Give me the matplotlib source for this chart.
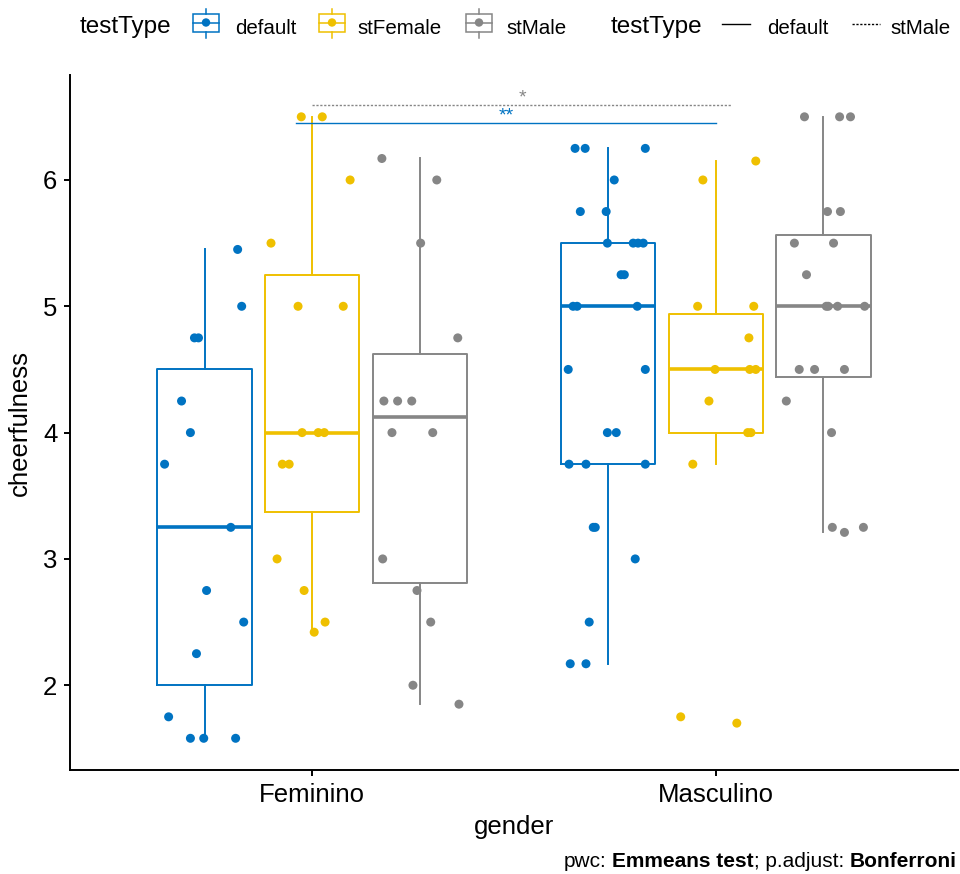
import matplotlib
matplotlib.use("Agg")
import matplotlib.pyplot as plt
from matplotlib.transforms import Affine2D
from matplotlib.lines import Line2D
from matplotlib.patches import Rectangle, Circle

plt.rcParams['font.family'] = ['Liberation Sans', 'DejaVu Sans']

# ---------------- data ----------------
genders = ["Feminino", "Masculino"]
test_types = ["default", "stFemale", "stMale"]
palette = ["#0073C2", "#EFC000", "#868686"]
y_ticks = [2, 3, 4, 5, 6]

fem_default = [5.45, 5.0, 4.75, 4.75, 4.25, 4.0, 3.75, 3.25, 2.75, 2.5, 2.25, 1.75, 1.58, 1.58, 1.58]
fem_stfemale = [6.5, 6.5, 6.0, 5.5, 5.0, 5.0, 4.0, 4.0, 4.0, 3.75, 3.75, 3.0, 2.75, 2.5, 2.42]
fem_stmale = [6.17, 6.0, 5.5, 4.75, 4.25, 4.25, 4.25, 4.0, 4.0, 3.0, 2.75, 2.5, 2.0, 1.85]
masc_default = [6.25, 6.25, 6.25, 6.0, 5.75, 5.75, 5.5, 5.5, 5.5, 5.5, 5.25, 5.25, 5.0, 5.0,
                5.0, 4.5, 4.5, 4.0, 4.0, 3.75, 3.75, 3.75, 3.25, 3.25, 3.0, 2.5, 2.17, 2.17]
masc_stfemale = [6.15, 6.0, 5.0, 5.0, 4.75, 4.5, 4.5, 4.5, 4.25, 4.0, 4.0, 3.75, 1.75, 1.70]
masc_stmale = [6.5, 6.5, 6.5, 5.75, 5.75, 5.5, 5.5, 5.25, 5.0, 5.0, 5.0, 5.0, 4.5, 4.5, 4.5,
               4.25, 4.0, 3.25, 3.21, 3.25]

# horizontal jitter of each point (x units)
fem_default_jit = [0.082, 0.092, -0.025, -0.015, -0.057, -0.035, -0.099, 0.065, 0.005, 0.097,
                   -0.020, -0.089, -0.035, -0.002, 0.077]
fem_stfemale_jit = [-0.027, 0.025, 0.094, -0.102, -0.035, 0.077, -0.025, 0.015, 0.030, -0.074,
                    -0.057, -0.087, -0.020, 0.032, 0.005]
fem_stmale_jit = [-0.094, 0.042, 0.002, 0.094, -0.089, -0.055, -0.020, -0.069, 0.032, -0.092,
                  -0.007, 0.027, -0.017, 0.097]
masc_default_jit = [-0.082, -0.057, 0.092, 0.015, -0.069, -0.005, -0.002, 0.062, 0.074, 0.087,
                    0.032, 0.040, -0.087, -0.077, 0.072, -0.099, 0.092, -0.002, 0.020, -0.097,
                    -0.055, 0.092, -0.037, -0.032, 0.067, -0.047, -0.094, -0.055]
masc_stfemale_jit = [0.099, -0.032, -0.045, 0.094, 0.082, -0.002, 0.084, 0.099, -0.017, 0.079,
                     0.087, -0.057, -0.087, 0.052]
masc_stmale_jit = [-0.047, 0.040, 0.067, 0.010, 0.042, -0.072, 0.025, -0.042, 0.007, 0.012,
                   0.035, 0.102, -0.060, -0.022, 0.052, -0.092, 0.020, 0.022, 0.052, 0.099]

groups = {
    ("Feminino", "default"): (fem_default, fem_default_jit),
    ("Feminino", "stFemale"): (fem_stfemale, fem_stfemale_jit),
    ("Feminino", "stMale"): (fem_stmale, fem_stmale_jit),
    ("Masculino", "default"): (masc_default, masc_default_jit),
    ("Masculino", "stFemale"): (masc_stfemale, masc_stfemale_jit),
    ("Masculino", "stMale"): (masc_stmale, masc_stmale_jit),
}

# pairwise comparisons Feminino vs Masculino within test type
pwc_types = ["default", "stMale"]
pwc_y = [6.45, 6.59]
pwc_labels = ["**", "*"]

# ---------------- figure ----------------
W, H = 960, 874
fig = plt.figure(figsize=(W / 100, H / 100), dpi=100)
ax = fig.add_axes([70 / W, 1 - 770 / H, (958 - 70) / W, (770 - 75) / H])

dodge = 0.8 / 3
box_w = 0.7 / 3

for gi, g in enumerate(genders):
    for ti, t in enumerate(test_types):
        vals, jit = groups[(g, t)]
        col = palette[ti]
        pos = gi + 1 + (ti - 1) * dodge
        ax.boxplot([vals], positions=[pos], widths=box_w, whis=1.5,
                   showfliers=False, showcaps=False, patch_artist=False,
                   boxprops=dict(color=col, linewidth=1.4),
                   whiskerprops=dict(color=col, linewidth=1.4),
                   medianprops=dict(color=col, linewidth=2.6, solid_capstyle='butt'),
                   manage_ticks=False, zorder=2)
        ax.scatter([pos + j for j in jit], vals, s=42, color=col,
                   edgecolors='none', zorder=3)

# significance brackets
bracket_x = {"default": (1 - 0.04, 2.0), "stMale": (1.0, 2 + 0.04)}
bracket_style = {"default": '-', "stMale": (0, (1.6, 1.2))}
for t, yv, lab in zip(pwc_types, pwc_y, pwc_labels):
    col = palette[test_types.index(t)]
    x1, x2 = bracket_x[t]
    ax.plot([x1, x2], [yv, yv], color=col, lw=1.0, linestyle=bracket_style[t], zorder=4)
    ax.text((x1 + x2) / 2, yv - 0.01, lab, color=col, ha='center', va='bottom', fontsize=14)

ax.set_xlim(0.4, 2.6)
ax.set_ylim(1.329, 6.831)
ax.set_xticks([1, 2])
ax.set_xticklabels(genders)
ax.set_yticks(y_ticks)
ax.set_yticklabels([str(v) for v in y_ticks])
for s in ("top", "right"):
    ax.spines[s].set_visible(False)
for s in ("left", "bottom"):
    ax.spines[s].set_linewidth(1.4)
    ax.spines[s].set_color("black")
ax.tick_params(axis='both', length=4, width=1.4, color='black', labelsize=18.5,
               labelcolor='black', pad=5)
ax.set_xlabel("gender", fontsize=18.5, labelpad=6)
ax.set_ylabel("cheerfulness", fontsize=18.5, labelpad=8)

# ---------------- legends (pixel layout, y measured from top) ----------------
px = Affine2D().scale(1 / W, -1 / H).translate(0, 1) + fig.transFigure

def ftext(x, y, s, size, **kw):
    return fig.text(x, y, s, transform=px, fontsize=size, va='baseline', **kw)

def box_key(cx, col):
    top, bot, half = 13.5, 31.5, 13
    fig.add_artist(Rectangle((cx - half, top), 2 * half, bot - top, transform=px,
                             fill=False, edgecolor=col, lw=1.1))
    fig.add_artist(Line2D([cx, cx], [8.5, top], transform=px, color=col, lw=1.1))
    fig.add_artist(Line2D([cx, cx], [bot, 37.5], transform=px, color=col, lw=1.1))
    fig.add_artist(Line2D([cx - half, cx + half], [22.5, 22.5], transform=px, color=col, lw=1.1))
    fig.add_artist(Circle((cx, 22.5), 4.2, transform=px, color=col, lw=0))

legend_y = 33.5
ftext(80, legend_y, "testType", 17.5)
key_x = [206, 332, 479]
label_x = [235, 357, 506]
for t, col, kx, lx in zip(test_types, palette, key_x, label_x):
    box_key(kx, col)
    ftext(lx, legend_y, t, 14.8)

ftext(611, legend_y, "testType", 17.5)
fig.add_artist(Line2D([722, 750], [23.5, 23.5], transform=px, color='black', lw=1.0))
ftext(767, legend_y, "default", 14.8)
fig.add_artist(Line2D([852, 880], [23.5, 23.5], transform=px, color='black', lw=1.0,
                      linestyle=(0, (1.6, 1.2))))
ftext(890, legend_y, "stMale", 14.8)

# caption with bold parts, laid out right to left
fig.canvas.draw()
renderer = fig.canvas.get_renderer()
cap_size = 15
space = 0.278 * cap_size * 100 / 72
# (text, weight, space to its left)
pieces = [("Bonferroni", "bold", space), ("; p.adjust:", "normal", 0),
          ("Emmeans test", "bold", space), ("pwc:", "normal", 0)]
cursor = 957
for txt, weight, gap in pieces:
    t = ftext(cursor, 867, txt, cap_size, ha='right', fontweight=weight)
    cursor -= t.get_window_extent(renderer).width + gap

fig.savefig("out.png", dpi=100)
